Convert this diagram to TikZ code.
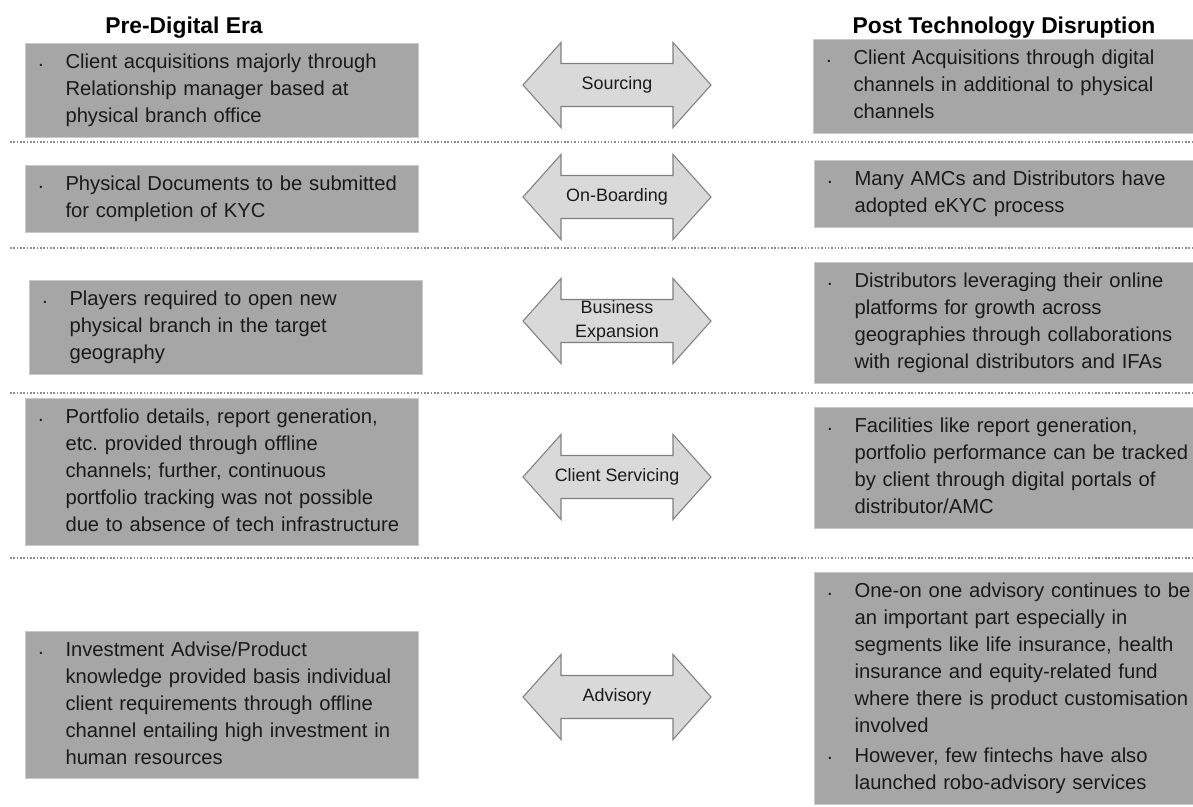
\documentclass[tikz,border=0pt]{standalone}
\usepackage{fontspec}
\setmainfont{Liberation Sans}
\usepackage{xcolor}
\usetikzlibrary{calc}
\definecolor{BX}{HTML}{A6A6A6}
\definecolor{BL}{HTML}{CACACA}
\definecolor{AF}{HTML}{D9D9D9}
\definecolor{AL}{HTML}{7F7F7F}
\definecolor{SL}{HTML}{8C8C8C}
\definecolor{TX}{HTML}{1A1A1A}

\frenchspacing
\newcommand{\boxfont}{\fontsize{11.5}{15.3}\selectfont}
\newcommand{\bitem}[1]{\makebox[0.55cm][l]{\raisebox{1.6pt}{.}}\begin{tabular}[t]{@{}l@{}}#1\end{tabular}}

\tikzset{
  pointbox/.style={fill=BX, draw=BL, line width=0.6pt, anchor=north west,
    inner xsep=0.25cm, inner ysep=0.13cm, align=left, font=\boxfont, text=TX},
  prebox/.style={pointbox, text width=7.36cm},
  postbox/.style={pointbox, text width=7.1cm},
  eralabel/.style={font=\fontsize{13}{15}\selectfont\bfseries, text=black, inner sep=0pt},
  swaparrow/.style={fill=AF, draw=AL, line width=0.6pt},
  swaplabel/.style={font=\fontsize{10.2}{13.6}\selectfont, text=TX, align=center, inner sep=0pt},
  sepline/.style={draw=SL, densely dotted, line width=0.9pt}
}

% block arrow pointing both ways: name, centre, label
\newcommand{\twoway}[3]{%
  \path[swaparrow, shift={(#2)}] (-94,0) -- ++(38,-42.5) -- ++(0,21) -- ++(112,0)
    -- ++(0,-21) -- ++(38,42.5) -- ++(-38,42.5) -- ++(0,-21) -- ++(-112,0)
    -- ++(0,21) -- cycle;
  \node[swaplabel] (#1) at (#2) {#3};
}

\begin{document}
\begin{tikzpicture}[x=0.02cm, y=-0.02cm]
  \useasboundingbox (0,0) rectangle (1193,807);

  % headings
  \node[eralabel] (preera) at (184,28) {Pre-Digital Era};
  \node[eralabel] (postera) at (1004,28) {Post Technology Disruption};

  % row separators
  \foreach \yy in {142,248,393,558}
    \draw[sepline] (10,\yy) -- (1193,\yy);

  % before
  \node[prebox] (pre1) at (25,43) {\bitem{Client acquisitions majorly through\\Relationship manager based at\\physical branch office}};
  \node[prebox] (pre2) at (25,165) {\bitem{Physical Documents to be submitted\\for completion of KYC}};
  \node[prebox] (pre3) at (29,280) {\bitem{Players required to open new\\physical branch in the target\\geography}};
  \node[prebox] (pre4) at (25,398) {\bitem{Portfolio details, report generation,\\etc. provided through offline\\channels; further, continuous\\portfolio tracking was not possible\\due to absence of tech infrastructure}};
  \node[prebox] (pre5) at (25,631) {\bitem{Investment Advise/Product\\knowledge provided basis individual\\client requirements through offline\\channel entailing high investment in\\human resources}};

  % after
  \node[postbox] (post1) at (813,39) {\bitem{Client Acquisitions through digital\\channels in additional to physical\\channels}};
  \node[postbox] (post2) at (814,160) {\bitem{Many AMCs and Distributors have\\adopted eKYC process}};
  \node[postbox] (post3) at (814,262) {\bitem{Distributors leveraging their online\\platforms for growth across\\geographies through collaborations\\with regional distributors and IFAs}};
  \node[postbox] (post4) at (814,407) {\bitem{Facilities like report generation,\\portfolio performance can be tracked\\by client through digital portals of\\distributor/AMC}};
  \node[postbox] (post5) at (814,572) {\bitem{One-on one advisory continues to be\\an important part especially in\\segments like life insurance, health\\insurance and equity-related fund\\where there is product customisation\\involved}\\[1pt]\bitem{However, few fintechs have also\\launched robo-advisory services}};

  % stages
  \twoway{sourcing}{617,85}{Sourcing}
  \twoway{onboarding}{617,197}{On-Boarding}
  \twoway{expansion}{617,321}{Business\\Expansion}
  \twoway{servicing}{617,477}{Client Servicing}
  \twoway{advisory}{617,697}{Advisory}
\end{tikzpicture}
\end{document}
